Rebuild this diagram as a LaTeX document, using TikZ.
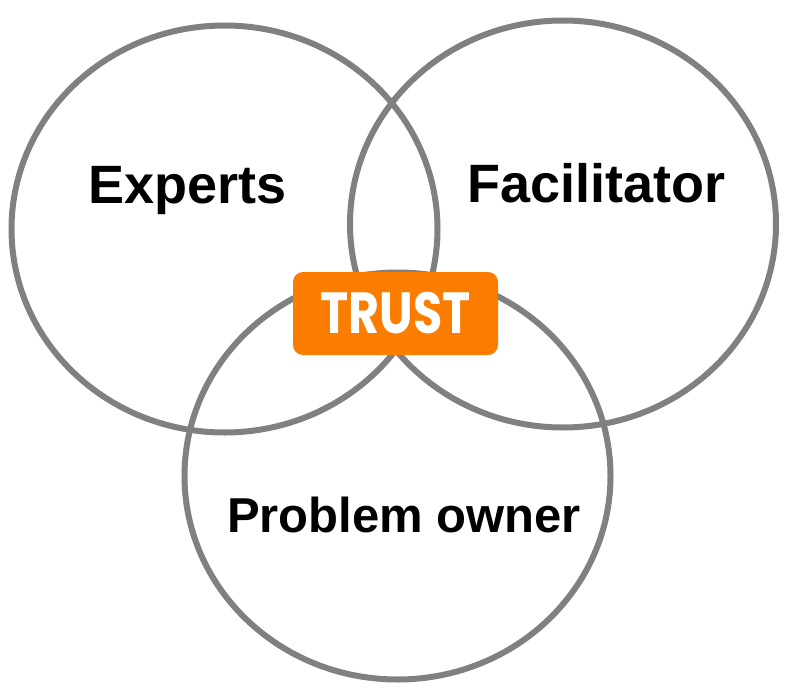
\documentclass[tikz,border=0pt]{standalone}
\usepackage{fontspec}
\setmainfont{Liberation Sans}
\newfontfamily\trustfont[FakeStretch=0.82]{Poppins}
\usetikzlibrary{shapes.geometric}
\definecolor{ringgray}{RGB}{128,128,128}
\definecolor{trustorange}{RGB}{250,125,0}

\begin{document}
\begin{tikzpicture}[x=1pt,y=-1pt,
        ring/.style={ellipse,draw=ringgray,line width=6pt,minimum width=426pt,minimum height=407pt,inner sep=0pt},
        role/.style={anchor=base,inner sep=0pt,font=\fontsize{54}{54}\selectfont\bfseries},
        trustbox/.style={rectangle,rounded corners=10pt,fill=trustorange,text=white,minimum width=205pt,minimum height=83pt,inner sep=0pt,font=\fontsize{58}{58}\trustfont\bfseries}]
        \useasboundingbox (0,0) rectangle (800,693);
        % rings
        \node (experts) [ring] at (224.5,229) {};
        \node (facilitator) [ring] at (563,224) {};
        \node (owner) [ring] at (397.5,476) {};
        % labels
        \node (expertslabel) [role] at (187.5,203) {Experts};
        \node (facilitatorlabel) [role] at (596.5,202) {Facilitator};
        \node (ownerlabel) [role,font=\fontsize{49}{49}\selectfont\bfseries] at (404,532) {Problem owner};
        % trust
        \node (trust) [trustbox] at (395.5,313.5) {TRUST};
    \end{tikzpicture}
\end{document}
